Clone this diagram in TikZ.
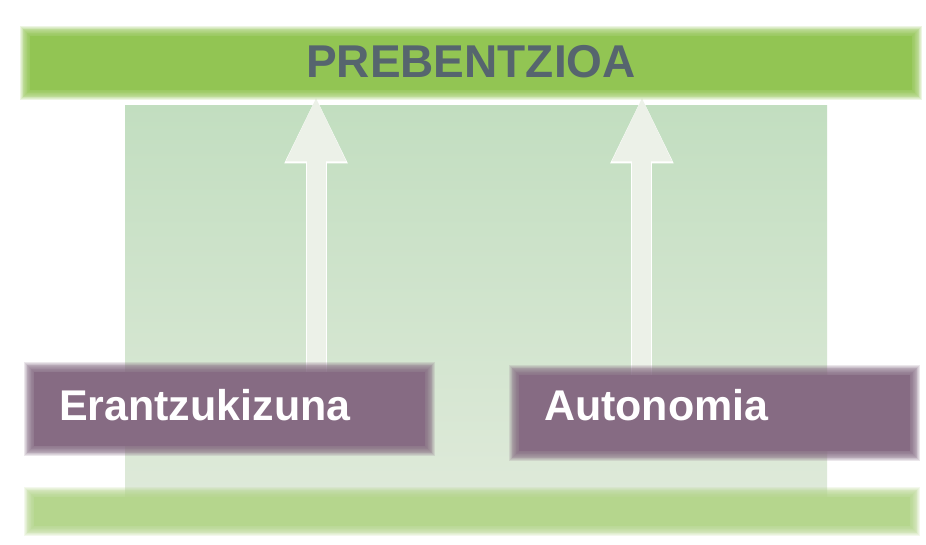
\documentclass[tikz,border=0pt]{standalone}
\usepackage{fontspec}
\setmainfont{Liberation Sans}
\usetikzlibrary{arrows.meta}
\definecolor{barG}{HTML}{92C553}
\definecolor{baseG}{HTML}{B5D68D}
\definecolor{boxP}{HTML}{866B83}
\definecolor{titleC}{HTML}{56656E}
\definecolor{panelTop}{HTML}{C2DEC0}
\definecolor{panelBot}{HTML}{DFEADA}
\definecolor{arrowC}{HTML}{ECF1E8}
\pgfdeclarelayer{bg}
\pgfdeclarelayer{pan}
\pgfdeclarelayer{arr}
\pgfdeclarelayer{halo}
\pgfsetlayers{bg,pan,arr,halo,main}
\newcommand\halo[2]{%
  \foreach \k in {1,...,12}{%
    \fill[#2,opacity=0.16] ([shift={({-0.6pt*\k},{-0.6pt*\k})}]#1.south west)
      rectangle ([shift={({0.6pt*\k},{0.6pt*\k})}]#1.north east);}}
\begin{document}
\begin{tikzpicture}[x=0.75pt,y=-0.75pt,
  bar/.style={fill=barG,inner sep=0pt,text=titleC,font=\bfseries\fontsize{34.5}{36}\selectfont},
  basebar/.style={fill=baseG,inner sep=0pt},
  pbox/.style={fill=boxP,inner sep=0pt,inner xsep=18.75pt,align=left,text=white,
    font=\bfseries\fontsize{32.25}{34}\selectfont,minimum height=55.5pt},
  upar/.style={line width=14.25pt,arrowC,shorten >=4.5pt,
    -{Triangle[width=41.25pt,length=48.75pt]},
    preaction={draw=white,line width=15.75pt,shorten >=4.5pt,-{Triangle[width=43.5pt,length=50.25pt]}}}
  ]
\begin{pgfonlayer}{bg}
\fill[white] (0,0) rectangle (926,544);
\end{pgfonlayer}
\useasboundingbox (0,0) rectangle (926,544);
% bars
\node[bar,minimum width=661.5pt,minimum height=40.5pt,text depth=2.25pt] (prev) at (471,63) {PREBENTZIOA};
\node[basebar,minimum width=657pt,minimum height=21.75pt] (base) at (472,511.5) {};
% boxes
\node[pbox,text width=255.75pt,minimum width=293.25pt,text depth=6.75pt] (erantz) at (229.5,409) {Erantzukizuna};
\node[pbox,text width=255.75pt,minimum width=293.25pt,minimum height=57pt,text depth=12.75pt] (auton) at (714.5,413) {Autonomia};
% panel behind
\begin{pgfonlayer}{pan}
\node[inner sep=0pt,minimum width=526.5pt,minimum height=300pt,top color=panelTop,bottom color=panelBot] (panel) at (476,305) {};
\end{pgfonlayer}
% soft edges
\begin{pgfonlayer}{halo}
  \halo{prev}{barG}
  \halo{base}{baseG}
  \halo{erantz}{boxP}
  \halo{auton}{boxP}
\end{pgfonlayer}
% arrows
\begin{pgfonlayer}{arr}
  \draw[upar] ([xshift=64.9pt]erantz.north) -- ([xshift=64.9pt]erantz.north |- prev.south);
  \draw[upar] ([xshift=-54.4pt]auton.north) -- ([xshift=-54.4pt]auton.north |- prev.south);
\end{pgfonlayer}
\end{tikzpicture}
\end{document}
